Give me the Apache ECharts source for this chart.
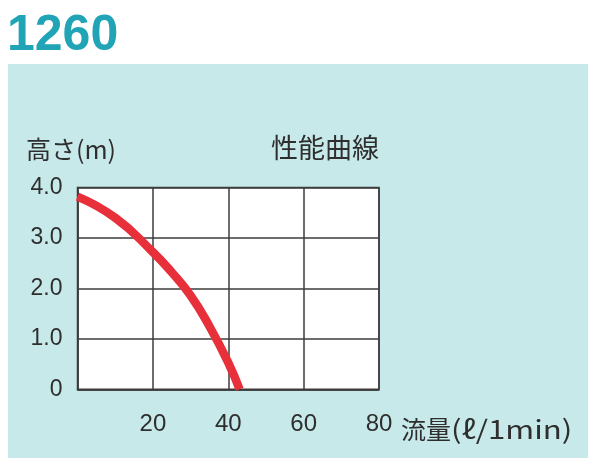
<!DOCTYPE html>
<html>
<head>
<meta charset="utf-8">
<script src="https://cdn.jsdelivr.net/npm/echarts@6/dist/echarts.min.js"></script>
<style>
  html,body{margin:0;padding:0;background:#fff;}
  #chart{width:600px;height:472px;}
</style>
</head>
<body>
<div id="chart"></div>
<script>
// 性能曲線 1260 — 流量(ℓ/1min) vs 高さ(m)
const flow = [0, 10, 20, 25, 30, 35, 40, 43];
const head = [3.82, 3.4, 2.72, 2.32, 1.86, 1.25, 0.53, 0];
const xTicks = ['', '20', '40', '60', '80'];
const yTicks = ['0', '1.0', '2.0', '3.0', '4.0'];

const C = { teal:'#20a4b6', panel:'#c8e9e9', line:'#3c3c3c', txt:'#2e2e2e', red:'#e8303a' };
const FONT = '"Liberation Sans", "Noto Sans CJK JP", sans-serif';
const JP = '"Noto Sans CJK JP", sans-serif';

const chart = echarts.init(document.getElementById('chart'));
chart.setOption({
  animation:false,
  textStyle:{ fontFamily:FONT },
  graphic:[
    { type:'rect', z:-10, shape:{ x:8, y:64, width:580, height:394 }, style:{ fill:C.panel } },
    { type:'text', style:{ text:'1260', x:7, y:36, font:'bold 50px ' + FONT, fill:C.teal, verticalAlign:'middle' } },
    { type:'text', style:{ text:'高さ(m)', x:26, y:149, font:'25px ' + JP, fill:C.txt, verticalAlign:'middle' } },
    { type:'text', style:{ text:'性能曲線', x:271, y:148, font:'27px ' + JP, fill:C.txt, verticalAlign:'middle' } },
    { type:'text', style:{ text:'流量', x:401, y:429, font:'25px ' + JP, fill:C.txt, verticalAlign:'middle' } },
    { type:'text', x:451, y:429, scaleX:1.2, style:{ text:'(ℓ/1min)', x:0, y:0, font:'26px ' + JP, fill:C.txt, verticalAlign:'middle' } }
  ],
  grid:{ left:77.5, right:221, top:187.5, bottom:82.7, show:true, backgroundColor:'#fff',
    borderColor:C.line, borderWidth:1.5 },
  xAxis:{ type:'value', min:0, max:80, interval:20,
    axisLine:{ show:true, lineStyle:{ color:C.line, width:1.5 } }, axisTick:{ show:false },
    splitLine:{ show:true, lineStyle:{ color:C.line, width:1.5 } },
    axisLabel:{ color:C.txt, fontSize:24, margin:23, formatter:(v)=>xTicks[v/20] } },
  yAxis:{ type:'value', min:0, max:4, interval:1,
    axisLine:{ show:true, lineStyle:{ color:C.line, width:1.5 } }, axisTick:{ show:false },
    splitLine:{ show:true, lineStyle:{ color:C.line, width:1.5 } },
    axisLabel:{ color:C.txt, fontSize:23, margin:15, formatter:(v)=>yTicks[v] } },
  series:[{
    type:'line', data:flow.map((x,i)=>[x, head[i]]), smooth:0.5,
    symbol:'none', clip:true, lineStyle:{ color:C.red, width:8.5 }
  }]
});
</script>
</body>
</html>
